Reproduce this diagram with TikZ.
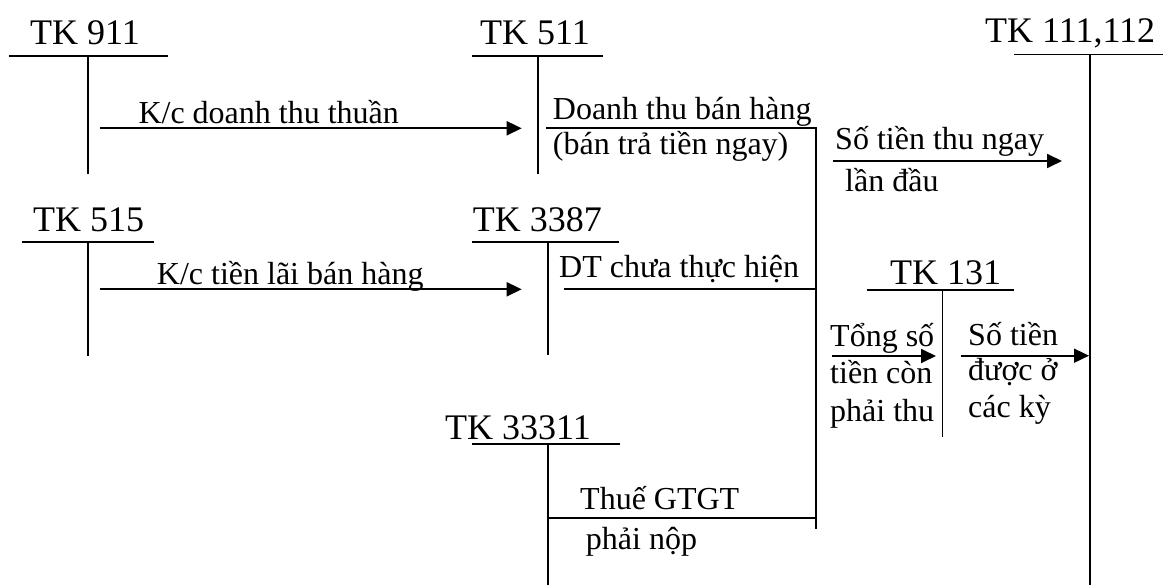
\documentclass[tikz,border=0pt]{standalone}
\usepackage{fontspec}
\setmainfont{Liberation Serif}
\usetikzlibrary{arrows.meta}

\begin{document}
\begin{tikzpicture}[x=1pt,y=-1pt,
  acct/.style={line width=1.8pt},
  flow/.style={line width=1.8pt},
  flowarrow/.style={line width=1.8pt,-{Triangle[length=15pt,width=14pt]}},
  tklabel/.style={anchor=base west,inner sep=0pt,font=\fontsize{36}{40}\selectfont},
  txt/.style={anchor=base west,inner sep=0pt,font=\fontsize{32}{37}\selectfont}]

\useasboundingbox (0,0) rectangle (1165,585);

% ---- T-accounts: label, top bar, stem ----
% TK 911
\node[tklabel] (l911) at (30,44.3) {TK 911};
\coordinate (a911l) at (9,56.3);   \coordinate (a911r) at (168,56.3);
\coordinate (a911t) at (88,56.3);  \coordinate (a911b) at (88,174);
\draw[acct] (a911l) -- (a911r) (a911t) -- (a911b);

% TK 511
\node[tklabel] (l511) at (480,44.3) {TK 511};
\coordinate (a511l) at (472,56.3); \coordinate (a511r) at (603,56.3);
\coordinate (a511t) at (538,56.3); \coordinate (a511b) at (538,174);
\draw[acct] (a511l) -- (a511r) (a511t) -- (a511b);

% TK 111,112
\node[tklabel] (l111) at (985,42.7) {TK 111,112};
\coordinate (a111l) at (1014,54.5); \coordinate (a111r) at (1163,54.5);
\coordinate (a111t) at (1090,54.5); \coordinate (a111b) at (1090,585);
\draw[acct] (a111l) -- (a111r) (a111t) -- (a111b);

% TK 515
\node[tklabel] (l515) at (33,231.7) {TK 515};
\coordinate (a515l) at (21.7,241.7); \coordinate (a515r) at (154,241.7);
\coordinate (a515t) at (88,241.7);   \coordinate (a515b) at (88,355.7);
\draw[acct] (a515l) -- (a515r) (a515t) -- (a515b);

% TK 3387
\node[tklabel] (l3387) at (472.6,231.7) {TK 3387};
\coordinate (a3387l) at (472,241.7); \coordinate (a3387r) at (619,241.7);
\coordinate (a3387t) at (548,241.7); \coordinate (a3387b) at (548,355);
\draw[acct] (a3387l) -- (a3387r) (a3387t) -- (a3387b);

% TK 131
\node[tklabel] (l131) at (890,285) {TK 131};
\coordinate (a131l) at (866.7,290); \coordinate (a131r) at (1014,290);
\coordinate (a131t) at (942.5,290); \coordinate (a131b) at (942.5,436.7);
\draw[acct] (a131l) -- (a131r) (a131t) -- (a131b);

% TK 33311
\node[tklabel] (l33311) at (445,439.3) {TK 33311};
\coordinate (a333l) at (472,444.3); \coordinate (a333r) at (620,444.3);
\coordinate (a333t) at (548,444.3); \coordinate (a333b) at (548,585);
\draw[acct] (a333l) -- (a333r) (a333t) -- (a333b);

% ---- collecting stem of the sale ----
\coordinate (colt) at (815.7,126.8);
\coordinate (colb) at (815.7,529.3);
\draw[flow] (colt) -- (colb);

% ---- flows ----
% K/c doanh thu thuan
\coordinate (f1s) at (100,128.3); \coordinate (f1e) at (521.7,128.3);
\draw[flowarrow] (f1s) -- (f1e);
\node[txt] (t1) at (138.3,123.3) {K/c doanh thu thuần};

% Doanh thu ban hang
\coordinate (f2s) at (546,127.7); \coordinate (f2e) at (816.6,127.7);
\draw[flow] (f2s) -- (f2e);
\node[txt] (t2a) at (552.7,120) {Doanh thu bán hàng};
\node[txt] (t2b) at (552.7,155) {(bán trả tiền ngay)};

% So tien thu ngay lan dau
\coordinate (f3s) at (833,161); \coordinate (f3e) at (1062,161);
\draw[flowarrow] (f3s) -- (f3e);
\node[txt] (t3a) at (835,150) {Số tiền thu ngay};
\node[txt] (t3b) at (845,191.7) {lần đầu};

% K/c tien lai ban hang
\coordinate (f4s) at (100,289.3); \coordinate (f4e) at (521.7,289.3);
\draw[flowarrow] (f4s) -- (f4e);
\node[txt] (t4) at (156.7,284.3) {K/c tiền lãi bán hàng};

% DT chua thuc hien
\coordinate (f5s) at (564,289.3); \coordinate (f5e) at (816.6,289.3);
\draw[flow] (f5s) -- (f5e);
\node[txt] (t5) at (559,278) {DT chưa thực hiện};

% Tong so tien con phai thu
\coordinate (f6s) at (832,356); \coordinate (f6e) at (936,356);
\draw[flowarrow] (f6s) -- (f6e);
\node[txt] (t6a) at (830,346.7) {Tổng số};
\node[txt] (t6b) at (830,384) {tiền còn};
\node[txt] (t6c) at (830,421) {phải thu};

% So tien duoc o cac ky
\coordinate (f7s) at (960.7,355.7); \coordinate (f7e) at (1089,355.7);
\draw[flowarrow] (f7s) -- (f7e);
\node[txt] (t7a) at (968,345) {Số tiền};
\node[txt] (t7b) at (968,381) {được ở};
\node[txt] (t7c) at (968,417) {các kỳ};

% Thue GTGT phai nop
\coordinate (f8s) at (548,517.7); \coordinate (f8e) at (816.6,517.7);
\draw[flow] (f8s) -- (f8e);
\node[txt] (t8a) at (580,509.3) {Thuế GTGT};
\node[txt] (t8b) at (585.7,549) {phải nộp};

\end{tikzpicture}
\end{document}
